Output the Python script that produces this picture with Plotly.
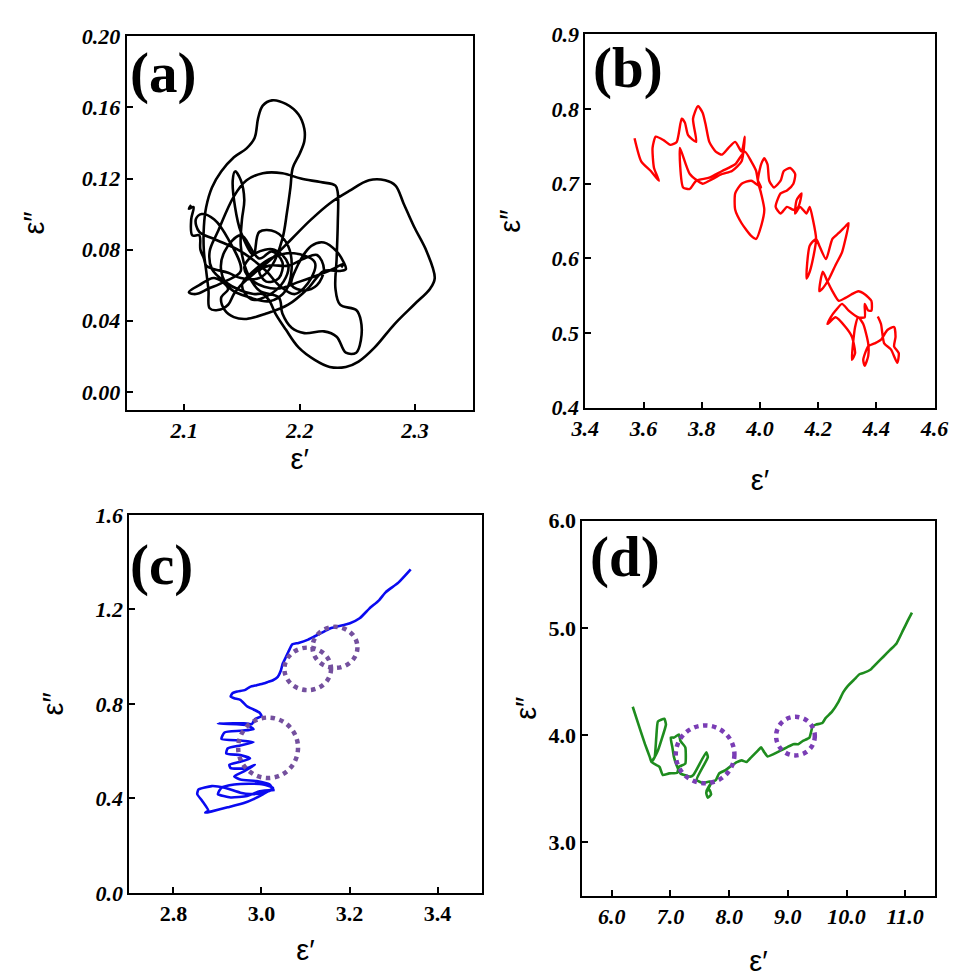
import plotly.graph_objects as go

# ---------------- data ----------------
# panel (a): epsilon' / epsilon'' trajectory (black)
a_eps1 = [2.106, 2.104, 2.108, 2.106, 2.107, 2.113, 2.114, 2.117, 2.119, 2.126, 2.138, 2.149, 2.165,
          2.176, 2.185, 2.189, 2.192, 2.194, 2.200, 2.204, 2.204, 2.199, 2.188, 2.176, 2.168, 2.164,
          2.161, 2.154, 2.143, 2.132, 2.124, 2.119, 2.117, 2.117, 2.119, 2.121, 2.122, 2.129, 2.138,
          2.143, 2.149, 2.163, 2.176, 2.193, 2.210, 2.226, 2.243, 2.260, 2.274, 2.283, 2.290, 2.299,
          2.310, 2.317, 2.313, 2.299, 2.282, 2.265, 2.251, 2.240, 2.226, 2.213, 2.199, 2.188, 2.179,
          2.174, 2.168, 2.160, 2.149, 2.135, 2.124, 2.122, 2.129, 2.143, 2.154, 2.168, 2.185, 2.201,
          2.218, 2.231, 2.233, 2.233, 2.232, 2.231, 2.235, 2.249, 2.253, 2.253, 2.249, 2.240, 2.232,
          2.221, 2.204, 2.193, 2.185, 2.182, 2.165, 2.154, 2.149, 2.150, 2.152, 2.149, 2.144, 2.142,
          2.144, 2.149, 2.160, 2.165, 2.179, 2.190, 2.193, 2.188, 2.174, 2.157, 2.140, 2.132, 2.135,
          2.149, 2.165, 2.176, 2.185, 2.182, 2.171, 2.165, 2.174, 2.190, 2.204, 2.215, 2.221, 2.215,
          2.204, 2.193, 2.196, 2.210, 2.221, 2.232, 2.238, 2.240, 2.235, 2.221, 2.207, 2.190, 2.171,
          2.154, 2.143, 2.135, 2.132, 2.138, 2.126, 2.113, 2.104, 2.110, 2.121, 2.135, 2.149, 2.138,
          2.126, 2.115, 2.110, 2.113, 2.126, 2.149, 2.171, 2.182, 2.196, 2.210, 2.213, 2.195, 2.178,
          2.160, 2.150, 2.158, 2.172, 2.186, 2.190, 2.178, 2.162, 2.152, 2.160, 2.180, 2.200, 2.225,
          2.238, 2.236]
a_eps2 = [0.105, 0.103, 0.104, 0.097, 0.088, 0.088, 0.080, 0.075, 0.071, 0.069, 0.067, 0.064, 0.064,
          0.071, 0.086, 0.101, 0.115, 0.126, 0.134, 0.141, 0.148, 0.156, 0.162, 0.164, 0.161, 0.154,
          0.143, 0.137, 0.132, 0.124, 0.115, 0.104, 0.093, 0.079, 0.068, 0.057, 0.047, 0.046, 0.049,
          0.055, 0.060, 0.068, 0.075, 0.086, 0.097, 0.106, 0.113, 0.119, 0.119, 0.116, 0.106, 0.093,
          0.079, 0.064, 0.058, 0.049, 0.038, 0.025, 0.017, 0.014, 0.014, 0.018, 0.025, 0.035, 0.044,
          0.051, 0.055, 0.055, 0.057, 0.062, 0.069, 0.079, 0.090, 0.110, 0.119, 0.123, 0.123, 0.120,
          0.118, 0.116, 0.112, 0.095, 0.075, 0.058, 0.049, 0.046, 0.040, 0.029, 0.022, 0.022, 0.031,
          0.034, 0.033, 0.036, 0.044, 0.053, 0.057, 0.068, 0.082, 0.097, 0.108, 0.119, 0.124, 0.119,
          0.104, 0.090, 0.077, 0.090, 0.090, 0.082, 0.069, 0.057, 0.051, 0.053, 0.058, 0.068, 0.079,
          0.088, 0.075, 0.079, 0.073, 0.064, 0.062, 0.068, 0.071, 0.071, 0.075, 0.077, 0.069, 0.060,
          0.057, 0.060, 0.068, 0.082, 0.084, 0.079, 0.073, 0.069, 0.068, 0.068, 0.058, 0.049, 0.044,
          0.041, 0.042, 0.046, 0.053, 0.058, 0.064, 0.060, 0.056, 0.055, 0.058, 0.062, 0.068, 0.086,
          0.097, 0.100, 0.097, 0.090, 0.086, 0.079, 0.068, 0.060, 0.055, 0.064, 0.073, 0.078, 0.076,
          0.068, 0.060, 0.052, 0.054, 0.062, 0.072, 0.080, 0.078, 0.070, 0.062, 0.058, 0.062, 0.068,
          0.072, 0.070]

# panel (b): red trajectory
b_eps1 = [3.569, 3.592, 3.625, 3.653, 3.636, 3.631, 3.642, 3.670, 3.692, 3.714, 3.731, 3.742, 3.753,
          3.781, 3.770, 3.787, 3.803, 3.814, 3.826, 3.848, 3.870, 3.892, 3.915, 3.937, 3.948, 3.937,
          3.904, 3.870, 3.826, 3.803, 3.759, 3.725, 3.736, 3.759, 3.781, 3.826, 3.870, 3.915, 3.948,
          3.970, 3.987, 3.993, 4.004, 3.970, 3.937, 3.915, 3.915, 3.937, 3.970, 3.987, 4.004, 4.015,
          4.004, 3.993, 4.004, 4.015, 4.026, 4.032, 4.048, 4.071, 4.082, 4.104, 4.121, 4.115, 4.093,
          4.071, 4.054, 4.071, 4.093, 4.115, 4.132, 4.143, 4.126, 4.121, 4.138, 4.160, 4.171, 4.182,
          4.193, 4.182, 4.171, 4.160, 4.171, 4.193, 4.204, 4.227, 4.249, 4.271, 4.294, 4.305, 4.294,
          4.282, 4.260, 4.238, 4.216, 4.204, 4.216, 4.232, 4.249, 4.271, 4.294, 4.316, 4.338, 4.360,
          4.383, 4.383, 4.372, 4.360, 4.360, 4.338, 4.305, 4.282, 4.260, 4.243, 4.232, 4.260, 4.294,
          4.316, 4.327, 4.316, 4.327, 4.338, 4.355, 4.372, 4.372, 4.360, 4.355, 4.372, 4.394, 4.416,
          4.438, 4.461, 4.466, 4.461, 4.477, 4.472, 4.450, 4.427, 4.416, 4.405]
b_eps2 = [0.761, 0.730, 0.717, 0.704, 0.721, 0.748, 0.763, 0.758, 0.752, 0.756, 0.787, 0.782, 0.765,
          0.756, 0.787, 0.804, 0.795, 0.778, 0.756, 0.743, 0.739, 0.748, 0.756, 0.743, 0.763, 0.730,
          0.717, 0.713, 0.704, 0.700, 0.713, 0.748, 0.695, 0.693, 0.704, 0.708, 0.717, 0.726, 0.743,
          0.730, 0.717, 0.704, 0.695, 0.704, 0.700, 0.687, 0.665, 0.647, 0.630, 0.626, 0.643, 0.665,
          0.687, 0.704, 0.726, 0.734, 0.726, 0.704, 0.695, 0.704, 0.717, 0.721, 0.713, 0.700, 0.691,
          0.687, 0.669, 0.660, 0.669, 0.665, 0.669, 0.687, 0.678, 0.660, 0.669, 0.660, 0.669, 0.652,
          0.626, 0.599, 0.582, 0.573, 0.617, 0.626, 0.617, 0.599, 0.626, 0.634, 0.643, 0.647, 0.626,
          0.608, 0.591, 0.573, 0.560, 0.556, 0.582, 0.569, 0.556, 0.543, 0.547, 0.552, 0.556, 0.552,
          0.543, 0.530, 0.530, 0.539, 0.521, 0.521, 0.530, 0.539, 0.530, 0.521, 0.512, 0.521, 0.508,
          0.495, 0.473, 0.464, 0.508, 0.521, 0.512, 0.486, 0.469, 0.456, 0.464, 0.482, 0.486, 0.491,
          0.504, 0.508, 0.495, 0.482, 0.473, 0.460, 0.478, 0.486, 0.512, 0.522]

# panel (c): blue trajectory
c_eps1 = [3.339, 3.311, 3.282, 3.267, 3.245, 3.223, 3.201, 3.187, 3.172, 3.157, 3.143, 3.121, 3.106,
          3.084, 3.070, 3.062, 3.055, 3.048, 3.044, 3.037, 3.026, 3.015, 3.004, 2.989, 2.974, 2.963,
          2.945, 2.934, 2.930, 2.938, 2.952, 2.967, 2.982, 2.996, 3.000, 2.985, 2.978, 2.960, 2.938,
          2.901, 2.967, 2.982, 2.952, 2.916, 2.909, 2.952, 2.982, 2.952, 2.923, 2.920, 2.952, 2.974,
          2.952, 2.927, 2.930, 2.967, 2.985, 2.960, 2.938, 2.952, 2.989, 3.018, 3.026, 3.004, 2.974,
          2.952, 2.916, 2.887, 2.857, 2.854, 2.865, 2.879, 2.872, 2.887, 2.923, 2.960, 2.982, 3.004,
          3.026, 3.004, 2.974, 2.938, 2.909, 2.901, 2.930, 2.967, 2.996, 3.030]
c_eps2 = [1.369, 1.313, 1.272, 1.238, 1.203, 1.162, 1.141, 1.134, 1.127, 1.120, 1.107, 1.086, 1.072,
          1.058, 1.052, 1.024, 0.996, 0.969, 0.941, 0.914, 0.900, 0.893, 0.886, 0.879, 0.872, 0.859,
          0.852, 0.845, 0.831, 0.824, 0.817, 0.790, 0.776, 0.762, 0.748, 0.735, 0.714, 0.718, 0.718,
          0.717, 0.710, 0.693, 0.686, 0.679, 0.652, 0.645, 0.638, 0.624, 0.611, 0.590, 0.583, 0.569,
          0.555, 0.542, 0.528, 0.528, 0.542, 0.514, 0.493, 0.480, 0.473, 0.459, 0.438, 0.424, 0.418,
          0.424, 0.445, 0.452, 0.438, 0.418, 0.390, 0.349, 0.339, 0.345, 0.362, 0.380, 0.397, 0.418,
          0.445, 0.459, 0.462, 0.459, 0.445, 0.418, 0.404, 0.410, 0.430, 0.436]

# panel (d): green trajectory
d_eps1 = [6.357, 6.456, 6.566, 6.648, 6.676, 6.731, 6.758, 6.786, 6.896, 6.923, 6.841, 6.786, 6.731,
          6.676, 6.813, 6.868, 6.978, 7.115, 7.143, 7.253, 7.253, 7.170, 7.143, 7.060, 7.005, 7.033,
          7.060, 7.115, 7.170, 7.335, 7.390, 7.610, 7.637, 7.445, 7.555, 7.665, 7.692, 7.610, 7.637,
          7.692, 7.665, 7.610, 7.692, 7.775, 7.830, 7.940, 8.049, 8.132, 8.214, 8.297, 8.379, 8.489,
          8.544, 8.599, 8.654, 8.764, 8.874, 8.984, 9.093, 9.176, 9.258, 9.368, 9.423, 9.478, 9.588,
          9.643, 9.753, 9.863, 9.945, 10.027, 10.137, 10.220, 10.302, 10.412, 10.522, 10.632, 10.742,
          10.852, 10.962, 11.044, 11.115]
d_eps2 = [4.264, 4.097, 3.915, 3.794, 3.748, 3.794, 3.976, 4.127, 4.152, 4.097, 3.945, 3.855, 3.794,
          3.748, 3.703, 3.627, 3.642, 3.648, 3.703, 3.733, 3.885, 3.945, 4.006, 3.976, 3.976, 3.885,
          3.794, 3.703, 3.642, 3.612, 3.627, 3.839, 3.794, 3.582, 3.552, 3.567, 3.552, 3.461, 3.415,
          3.445, 3.491, 3.476, 3.552, 3.582, 3.642, 3.673, 3.718, 3.748, 3.764, 3.748, 3.794, 3.855,
          3.885, 3.839, 3.800, 3.824, 3.855, 3.885, 3.915, 3.915, 3.945, 3.976, 4.082, 4.097, 4.112,
          4.158, 4.218, 4.309, 4.400, 4.461, 4.521, 4.567, 4.582, 4.612, 4.673, 4.733, 4.794, 4.855,
          4.976, 5.067, 5.142]

# highlighted regions (dotted circles): centre eps', centre eps'', radius eps', radius eps''
c_circ_x = [3.105, 3.167, 3.015]
c_circ_y = [0.948, 1.039, 0.614]
c_circ_rx = [0.053, 0.051, 0.068]
c_circ_ry = [0.090, 0.087, 0.128]
d_circ_x = [7.59, 9.13]
d_circ_y = [3.82, 3.99]
d_circ_rx = [0.50, 0.33]
d_circ_ry = [0.27, 0.18]

# axis ticks
a_xticks = [2.1, 2.2, 2.3]
a_yticks = [0.00, 0.04, 0.08, 0.12, 0.16, 0.20]
b_xticks = [3.4, 3.6, 3.8, 4.0, 4.2, 4.4, 4.6]
b_yticks = [0.4, 0.5, 0.6, 0.7, 0.8, 0.9]
c_xticks = [2.8, 3.0, 3.2, 3.4]
c_yticks = [0.0, 0.4, 0.8, 1.2, 1.6]
d_xticks = [6.0, 7.0, 8.0, 9.0, 10.0, 11.0]
d_yticks = [3.0, 4.0, 5.0, 6.0]

panel_labels = ["(a)", "(b)", "(c)", "(d)"]

# ---------------- figure ----------------
SERIF = "Liberation Serif, Times New Roman, serif"
SANS = "Liberation Sans, Arial, sans-serif"

fig = go.Figure()
fig.add_trace(go.Scatter(x=a_eps1, y=a_eps2, mode="lines",
                         line=dict(color="#000000", width=2.6, shape="spline", smoothing=1.0),
                         xaxis="x", yaxis="y", showlegend=False))
fig.add_trace(go.Scatter(x=b_eps1, y=b_eps2, mode="lines",
                         line=dict(color="#FF0000", width=2.4, shape="spline", smoothing=0.6),
                         xaxis="x2", yaxis="y2", showlegend=False))
fig.add_trace(go.Scatter(x=c_eps1, y=c_eps2, mode="lines",
                         line=dict(color="#0A0AF0", width=2.6, shape="spline", smoothing=0.5),
                         xaxis="x3", yaxis="y3", showlegend=False))
fig.add_trace(go.Scatter(x=d_eps1, y=d_eps2, mode="lines",
                         line=dict(color="#1E8C1E", width=2.6, shape="spline", smoothing=0.4),
                         xaxis="x4", yaxis="y4", showlegend=False))


def labels(vals, fmt, italic):
    out = []
    for v in vals:
        s = format(v, fmt)
        out.append(f"<b><i>{s}</i></b>" if italic else f"<b>{s}</b>")
    return out


TICKFONT = dict(family=SERIF, size=22, color="black")


def xaxis(domain, rng, ticks, fmt, anchor, italic=True, standoff=4):
    return dict(domain=domain, range=rng, tickvals=ticks, ticktext=labels(ticks, fmt, italic),
                anchor=anchor,
                showline=True, linecolor="black", linewidth=2, mirror=True,
                ticks="inside", ticklen=6, tickwidth=2, tickcolor="black",
                showgrid=False, zeroline=False, tickfont=TICKFONT,
                title=dict(text="ε′", font=dict(family=SANS, size=29, color="black"),
                           standoff=standoff))


def yaxis(domain, rng, ticks, fmt, anchor, italic=True, standoff=18):
    return dict(domain=domain, range=rng, tickvals=ticks, ticktext=labels(ticks, fmt, italic),
                anchor=anchor,
                showline=True, linecolor="black", linewidth=2, mirror=True,
                ticks="inside", ticklen=6, tickwidth=2, tickcolor="black",
                showgrid=False, zeroline=False, tickfont=TICKFONT,
                title=dict(text="ε″", font=dict(family=SANS, size=29, color="black"),
                           standoff=standoff))


W, H = 966, 978


def dom_x(l, r):
    return [l / W, r / W]


def dom_y(top, bottom):
    return [1 - bottom / H, 1 - top / H]


fig.update_layout(
    width=W, height=H,
    margin=dict(l=0, r=0, t=0, b=0),
    paper_bgcolor="white", plot_bgcolor="white",
    xaxis=xaxis(dom_x(115, 472), [2.05, 2.35], a_xticks, ".1f", "y", standoff=6),
    yaxis=yaxis(dom_y(25, 408), [-0.01, 0.2], a_yticks, ".2f", "x", standoff=28),
    xaxis2=xaxis(dom_x(588, 948), [3.4, 4.6], b_xticks, ".1f", "y2", standoff=30),
    yaxis2=yaxis(dom_y(23, 406), [0.4, 0.9], b_yticks, ".1f", "x2", standoff=22),
    xaxis3=xaxis(dom_x(118, 481), [2.7, 3.5], c_xticks, ".1f", "y3", italic=False, standoff=14),
    yaxis3=yaxis(dom_y(516, 904), [0.0, 1.6], c_yticks, ".1f", "x3", standoff=23),
    xaxis4=xaxis(dom_x(585, 948), [5.5, 11.5], d_xticks, ".1f", "y4", standoff=22),
    yaxis4=yaxis(dom_y(522, 907), [2.5, 6.0], d_yticks, ".1f", "x4", italic=False, standoff=3),
)

# panel labels (small per-panel offsets as in the original figure)
label_dx = [1, 6, -1, 6]
label_dy = [-3, 0, -16, -2]
for i, lab in enumerate(panel_labels):
    sfx = "" if i == 0 else str(i + 1)
    fig.add_annotation(text=f"<b>{lab}</b>", xref=f"x{sfx} domain", yref=f"y{sfx} domain",
                       x=0.0, y=1.0, xanchor="left", yanchor="top", showarrow=False,
                       xshift=label_dx[i], yshift=label_dy[i],
                       font=dict(family=SERIF, size=57, color="black"))

# dotted circles
for cx, cy, rx, ry in zip(c_circ_x, c_circ_y, c_circ_rx, c_circ_ry):
    fig.add_shape(type="circle", xref="x3", yref="y3", x0=cx - rx, x1=cx + rx,
                  y0=cy - ry, y1=cy + ry,
                  line=dict(color="#74509E", width=4.5, dash="4.5px,4.5px"))
for cx, cy, rx, ry in zip(d_circ_x, d_circ_y, d_circ_rx, d_circ_ry):
    fig.add_shape(type="circle", xref="x4", yref="y4", x0=cx - rx, x1=cx + rx,
                  y0=cy - ry, y1=cy + ry,
                  line=dict(color="#7A3DB5", width=4.5, dash="4.5px,4.5px"))

fig.write_html("out.html")
